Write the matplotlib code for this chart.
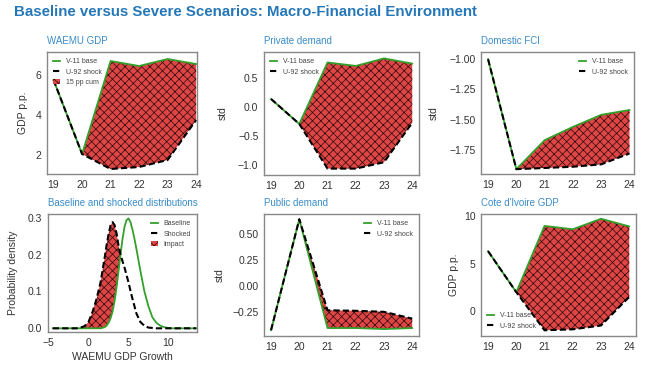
import matplotlib.pyplot as plt

# Scenario paths (years 2019-2024)
years = [19, 20, 21, 22, 23, 24]
waemu_base = [5.75, 2.05, 6.7, 6.45, 6.8, 6.55]
waemu_shock = [5.75, 2.05, 1.3, 1.4, 1.75, 3.75]
priv_base = [0.14, -0.29, 0.77, 0.71, 0.84, 0.75]
priv_shock = [0.14, -0.29, -1.06, -1.06, -0.95, -0.27]
fci_base = [-1.0, -1.91, -1.67, -1.56, -1.46, -1.42]
fci_shock = [-1.0, -1.91, -1.90, -1.89, -1.87, -1.78]
pub_base = [-0.42, 0.64, -0.40, -0.40, -0.41, -0.40]
pub_shock = [-0.42, 0.64, -0.23, -0.235, -0.245, -0.31]
civ_base = [6.3, 2.0, 8.95, 8.6, 9.7, 8.9]
civ_shock = [6.3, 2.0, -2.0, -1.9, -1.5, 1.5]

# WAEMU GDP growth densities (finer steps near peaks)
growth = [-4.5, -4.0, -3.5, -3.0, -2.5, -2.0, -1.5, -1.0, -0.5, 0.0, 0.5, 1.0,
          1.5, 2.0, 2.25, 2.5, 2.75, 3.0, 3.25, 3.5, 3.75, 4.0, 4.25, 4.5,
          4.75, 5.0, 5.25, 5.5, 5.75, 6.0, 6.5, 7.0, 7.5, 8.0, 8.5, 9.0, 9.5,
          10.0, 10.5, 11.0, 11.5, 12.0, 12.5, 13.0, 13.5]
dens_base = [0, 0, 0, 0, 0, 0, 0, 0, 0, 0, 0, 0,
             0.0, 0.003, 0.007, 0.015, 0.027, 0.045, 0.073, 0.11, 0.155, 0.20,
             0.242, 0.275, 0.293, 0.298, 0.288, 0.268, 0.243, 0.215,
             0.155, 0.10, 0.06, 0.03, 0.015, 0.007, 0.003,
             0.001, 0, 0, 0, 0, 0, 0, 0]
dens_shock = [0, 0, 0, 0, 0, 0, 0, 0.002, 0.006, 0.018, 0.045, 0.08,
              0.125, 0.19, 0.225, 0.255, 0.279, 0.288, 0.280, 0.258, 0.225,
              0.20, 0.182, 0.165, 0.145, 0.125, 0.102, 0.08, 0.06, 0.04,
              0.017, 0.007, 0.002, 0.001, 0, 0, 0,
              0, 0, 0, 0, 0, 0, 0, 0]

plt.rcParams['font.family'] = ['Liberation Sans', 'DejaVu Sans']
plt.rcParams['hatch.linewidth'] = 0.5
plt.rcParams['xtick.major.size'] = 0
plt.rcParams['ytick.major.size'] = 0
plt.rcParams['xtick.color'] = '#333333'
plt.rcParams['ytick.color'] = '#333333'

green = '#33a02c'
red = '#de4646'
title_blue = '#3a8cc8'
dash = (0, (3, 1.5))
hatch = 'xxxx'

fig = plt.figure(figsize=(6.46, 3.66), dpi=100)
W, H = 646, 366


def make_ax(x0, y0, x1, y1):
    return fig.add_axes([x0 / W, 1 - y1 / H, (x1 - x0) / W, (y1 - y0) / H])


def style(ax, title, ylabel, label_x):
    ax.set_title(title, loc='left', fontsize=7, color=title_blue, pad=6)
    ax.set_ylabel(ylabel, fontsize=7.5, color='#333333', va='center')
    ax.yaxis.set_label_coords(label_x, 0.5)
    ax.tick_params(labelsize=7.5, pad=4)
    for s in ax.spines.values():
        s.set_color('#888888')
        s.set_linewidth(1.0)


def scenario(ax, base, shock, fill_label=None):
    ax.fill_between(years, shock, base, facecolor=red, edgecolor='#2a0808',
                    hatch=hatch, linewidth=0, label=fill_label)
    ax.plot(years, base, color=green, lw=1.3, label='V-11 base')
    ax.plot(years, shock, color='black', lw=1.5, ls=dash, label='U-92 shock')
    ax.set_xticks(years)


def small_legend(ax, loc, order=None):
    h, l = ax.get_legend_handles_labels()
    if order:
        h, l = [h[i] for i in order], [l[i] for i in order]
    ax.legend(h, l, loc=loc, frameon=False, fontsize=5, handlelength=1.0,
              labelcolor='#444444')


# WAEMU GDP
ax1 = make_ax(47, 52, 197, 174)
scenario(ax1, waemu_base, waemu_shock, fill_label='15 pp cum')
ax1.set_xlim(18.77, 24.03)
ax1.set_ylim(1.05, 7.15)
ax1.set_yticks([2, 4, 6])
style(ax1, 'WAEMU GDP', 'GDP p.p.', -0.157)
small_legend(ax1, 'upper left', [1, 2, 0])

# Private demand
ax2 = make_ax(264, 52, 419, 175)
scenario(ax2, priv_base, priv_shock)
ax2.set_xlim(18.75, 24.24)
ax2.set_ylim(-1.17, 0.95)
ax2.set_yticks([-1.0, -0.5, 0.0, 0.5])
style(ax2, 'Private demand', 'std', -0.265)
small_legend(ax2, 'upper left')

# Domestic FCI
ax3 = make_ax(481, 52, 634, 174)
scenario(ax3, fci_base, fci_shock)
ax3.set_xlim(18.75, 24.16)
ax3.set_ylim(-1.95, -0.94)
ax3.set_yticks([-1.75, -1.5, -1.25, -1.0])
ax3.set_yticklabels(['\u22121.75', '\u22121.50', '\u22121.25', '\u22121.00'])
style(ax3, 'Domestic FCI', 'std', -0.307)
small_legend(ax3, 'upper right')

# Distributions
ax4 = make_ax(48, 214, 197, 332)
ax4.fill_between(growth, dens_base, dens_shock,
                 where=[s >= b for s, b in zip(dens_shock, dens_base)],
                 interpolate=True, facecolor=red, edgecolor='#2a0808',
                 hatch=hatch, linewidth=0, label='Impact')
ax4.plot(growth, dens_base, color=green, lw=1.3, label='Baseline')
ax4.plot(growth, dens_shock, color='black', lw=1.5, ls=dash, label='Shocked')
ax4.set_xlim(-5.1, 13.6)
ax4.set_ylim(-0.01, 0.31)
ax4.set_xticks([-5, 0, 5, 10])
ax4.set_yticks([0.0, 0.1, 0.2, 0.3])
style(ax4, 'Baseline and shocked distributions', 'Probability density', -0.237)
ax4.set_xlabel('WAEMU GDP Growth', fontsize=7.5, color='#333333', labelpad=3)
small_legend(ax4, 'upper right', [1, 2, 0])

# Public demand
ax5 = make_ax(264, 214, 419, 336)
scenario(ax5, pub_base, pub_shock)
ax5.set_xlim(18.75, 24.24)
ax5.set_ylim(-0.476, 0.69)
ax5.set_yticks([-0.25, 0.0, 0.25, 0.5])
ax5.set_yticklabels(['\u22120.25', '0.00', '0.25', '0.50'])
style(ax5, 'Public demand', 'std', -0.284)
small_legend(ax5, 'upper right')

# Cote d'Ivoire GDP
ax6 = make_ax(481, 214, 636, 336)
scenario(ax6, civ_base, civ_shock)
ax6.set_xlim(18.75, 24.24)
ax6.set_ylim(-2.6, 10.2)
ax6.set_yticks([0, 5, 10])
style(ax6, "Cote d'Ivoire GDP", 'GDP p.p.', -0.174)
small_legend(ax6, 'lower left')

fig.text(14 / W, 1 - 12 / H,
         'Baseline versus Severe Scenarios: Macro-Financial Environment',
         fontsize=10.8, fontweight='bold', color='#2577b8', va='center')

fig.savefig('out.png', dpi=100)
